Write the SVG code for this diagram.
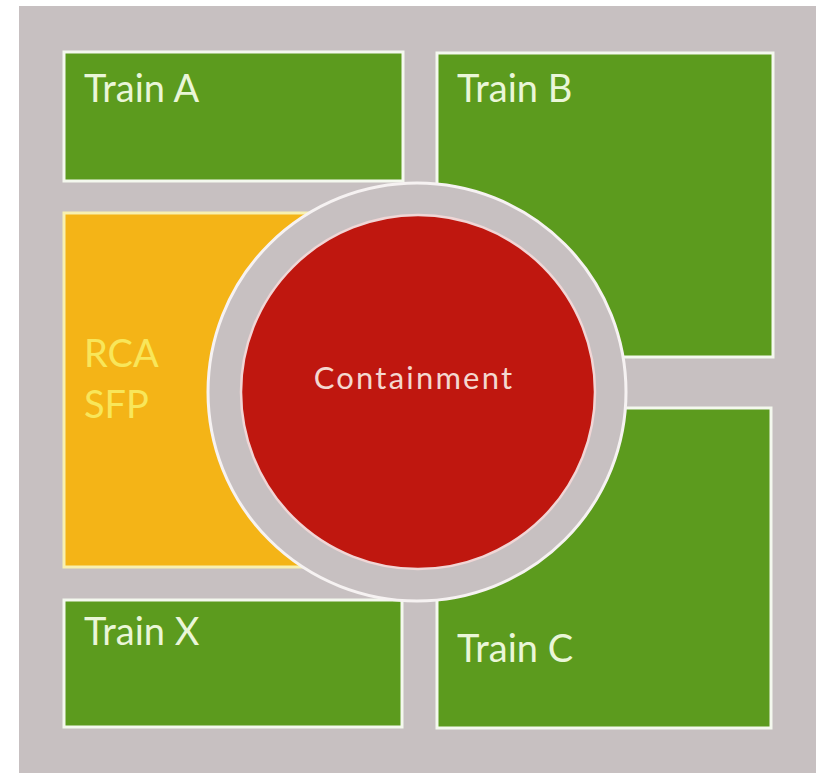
<svg xmlns="http://www.w3.org/2000/svg" width="816" height="773" viewBox="0 0 816 773">
  <style>
    .box { fill: #5c9b1e; stroke: #f4f8ee; stroke-width: 3; }
    .rca { fill: #f4b417; stroke: #f8f0b0; stroke-width: 3; }
    .lbl { font-family: Lato, "Open Sans", "Liberation Sans", sans-serif; font-size: 38px; fill: #eaf6d8; }
    .rcal { font-family: Lato, "Open Sans", "Liberation Sans", sans-serif; font-size: 38px; fill: #f8e65a; }
    .cont { font-family: Lato, "Open Sans", "Liberation Sans", sans-serif; font-size: 31px; fill: #f4d8d0; letter-spacing: 2.2px; }
  </style>
  <rect x="0" y="0" width="816" height="773" fill="#ffffff"/>
  <rect x="19" y="6" width="797" height="767" fill="#c7c0c1"/>
  <g id="train-a">
    <rect class="box" x="64" y="52" width="339" height="129"/>
    <text class="lbl" x="84" y="102">Train A</text>
  </g>
  <g id="train-b">
    <rect class="box" x="437" y="53" width="336" height="304"/>
    <text class="lbl" x="457" y="102">Train B</text>
  </g>
  <g id="train-x">
    <rect class="box" x="64" y="600" width="338" height="127"/>
    <text class="lbl" x="84" y="645">Train X</text>
  </g>
  <g id="train-c">
    <rect class="box" x="437" y="408" width="334" height="320"/>
    <text class="lbl" x="457" y="662">Train C</text>
  </g>
  <g id="rca-sfp">
    <rect class="rca" x="64" y="213" width="340" height="354"/>
    <text class="rcal" x="84" y="367">RCA</text>
    <text class="rcal" x="84" y="418">SFP</text>
  </g>
  <g id="containment">
    <circle cx="417" cy="392" r="209" fill="#c7c0c1" stroke="#f6f2f2" stroke-width="3"/>
    <circle cx="418" cy="392" r="177" fill="#bf170f" stroke="#f0d6d6" stroke-width="2.5"/>
    <text class="cont" x="414" y="389" text-anchor="middle">Containment</text>
  </g>
  <g id="connectors"/>
</svg>
